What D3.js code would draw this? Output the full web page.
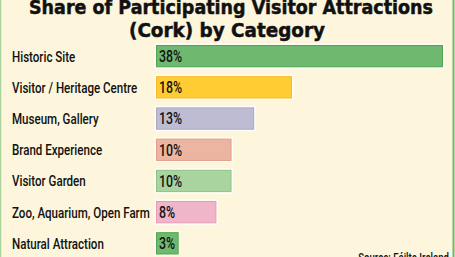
<!DOCTYPE html>
<html>
<head>
<meta charset="utf-8">
<script src="https://cdn.jsdelivr.net/npm/d3@7"></script>
<style>
  html, body { margin: 0; padding: 0; background: #fdf6dc; }
  svg { display: block; }
</style>
</head>
<body>
<svg></svg>
<script>
const width = 455;
const height = 257;

const categories = [
    'Historic Site',
    'Visitor / Heritage Centre',
    'Museum, Gallery',
    'Brand Experience',
    'Visitor Garden',
    'Zoo, Aquarium, Open Farm',
    'Natural Attraction'
];
const shares = [38, 18, 13, 10, 10, 8, 3];
const fills = ['#6fb86f', '#ffcc33', '#bebcd3', '#ecb5a1', '#a9d49f', '#f0b5c9', '#6fb86f'];
const strokes = ['#4fa64f', '#f5bb1f', '#a9a7c4', '#e29d86', '#8cc581', '#e59ab4', '#4fa64f'];

const data = categories.map((c, i) => ({ category: c, share: shares[i], fill: fills[i], stroke: strokes[i] }));

const labelFont = 'Roboto, "DejaVu Sans", sans-serif';
const gutter = 138; // room the longest category label gets

const xScale = d3.scaleLinear()
    .domain([0, 38])
    .range([156, 443]);

const yScale = d3.scaleBand()
    .domain(categories)
    .range([45, 254.5])
    .paddingInner(0.285)
    .paddingOuter(0);

const svg = d3.select('svg')
    .attr('width', width)
    .attr('height', height);

svg.append('rect')
    .attr('width', width)
    .attr('height', height)
    .attr('fill', '#fdf6dc');

// frame lines at the sides
svg.append('line')
    .attr('x1', 0.5).attr('x2', 0.5)
    .attr('y1', 0).attr('y2', height)
    .attr('stroke', '#a8d39a')
    .attr('stroke-width', 1.5);

svg.append('line')
    .attr('x1', 453.5).attr('x2', 453.5)
    .attr('y1', 0).attr('y2', height)
    .attr('stroke', '#6fb86f')
    .attr('stroke-width', 2);

const titleLines = ['Share of Participating Visitor Attractions', '(Cork) by Category'];
svg.selectAll('text.title')
    .data(titleLines)
    .enter()
    .append('text')
        .attr('class', 'title')
        .attr('x', (d, i) => i === 0 ? 231 : 227)
        .attr('y', (d, i) => 13.5 + i * 23)
        .style('text-anchor', 'middle')
        .style('font-family', '"DejaVu Sans", sans-serif')
        .style('font-weight', 'bold')
        .style('font-size', '19.5px')
        .style('fill', '#111')
        .style('stroke', '#111')
        .style('stroke-width', 0.5)
        .attr('textLength', (d, i) => i === 0 ? 404 : 196)
        .attr('lengthAdjust', 'spacingAndGlyphs')
        .text((d) => d);

const rows = svg.selectAll('g.row')
    .data(data)
    .enter()
    .append('g')
        .attr('class', 'row');

// white halo behind bars
rows.append('rect')
    .attr('x', xScale(0) - 1.5)
    .attr('y', (d) => yScale(d.category) - 1.5)
    .attr('width', (d) => xScale(d.share) - xScale(0) + 3)
    .attr('height', yScale.bandwidth() + 3)
    .attr('fill', '#ffffff')
    .attr('opacity', 0.8);

rows.append('rect')
    .attr('x', xScale(0) + 0.5)
    .attr('y', (d) => yScale(d.category) + 0.5)
    .attr('width', (d) => xScale(d.share) - xScale(0) - 1)
    .attr('height', yScale.bandwidth() - 1)
    .attr('fill', (d) => d.fill)
    .attr('stroke', (d) => d.stroke)
    .attr('stroke-width', 1);

const catLabels = rows.append('text')
    .attr('dy', '0.36em')
    .style('font-family', labelFont)
    .style('font-weight', 500)
    .style('font-size', '15px')
    .style('fill', '#111')
    .text((d) => d.category);

// squeeze labels horizontally so they look condensed
let widest = 0;
catLabels.each(function () { widest = Math.max(widest, this.getComputedTextLength()); });
const squeeze = gutter / widest;

catLabels.attr('transform', (d) =>
    `translate(12,${yScale(d.category) + yScale.bandwidth() / 2}) scale(${squeeze},1)`);

rows.append('text')
    .attr('dy', '0.36em')
    .attr('transform', (d) =>
        `translate(${xScale(0) + 3},${yScale(d.category) + yScale.bandwidth() / 2}) scale(${squeeze},1)`)
    .style('font-family', labelFont)
    .style('font-weight', 500)
    .style('font-size', '16px')
    .style('fill', '#111')
    .text((d) => d.share + '%');

svg.append('text')
    .attr('transform', `translate(449,262) scale(${squeeze},1)`)
    .style('text-anchor', 'end')
    .style('font-family', labelFont)
    .style('font-weight', 500)
    .style('font-size', '12.5px')
    .style('fill', '#111')
    .text('Source: Fáilte Ireland');
</script>
</body>
</html>
